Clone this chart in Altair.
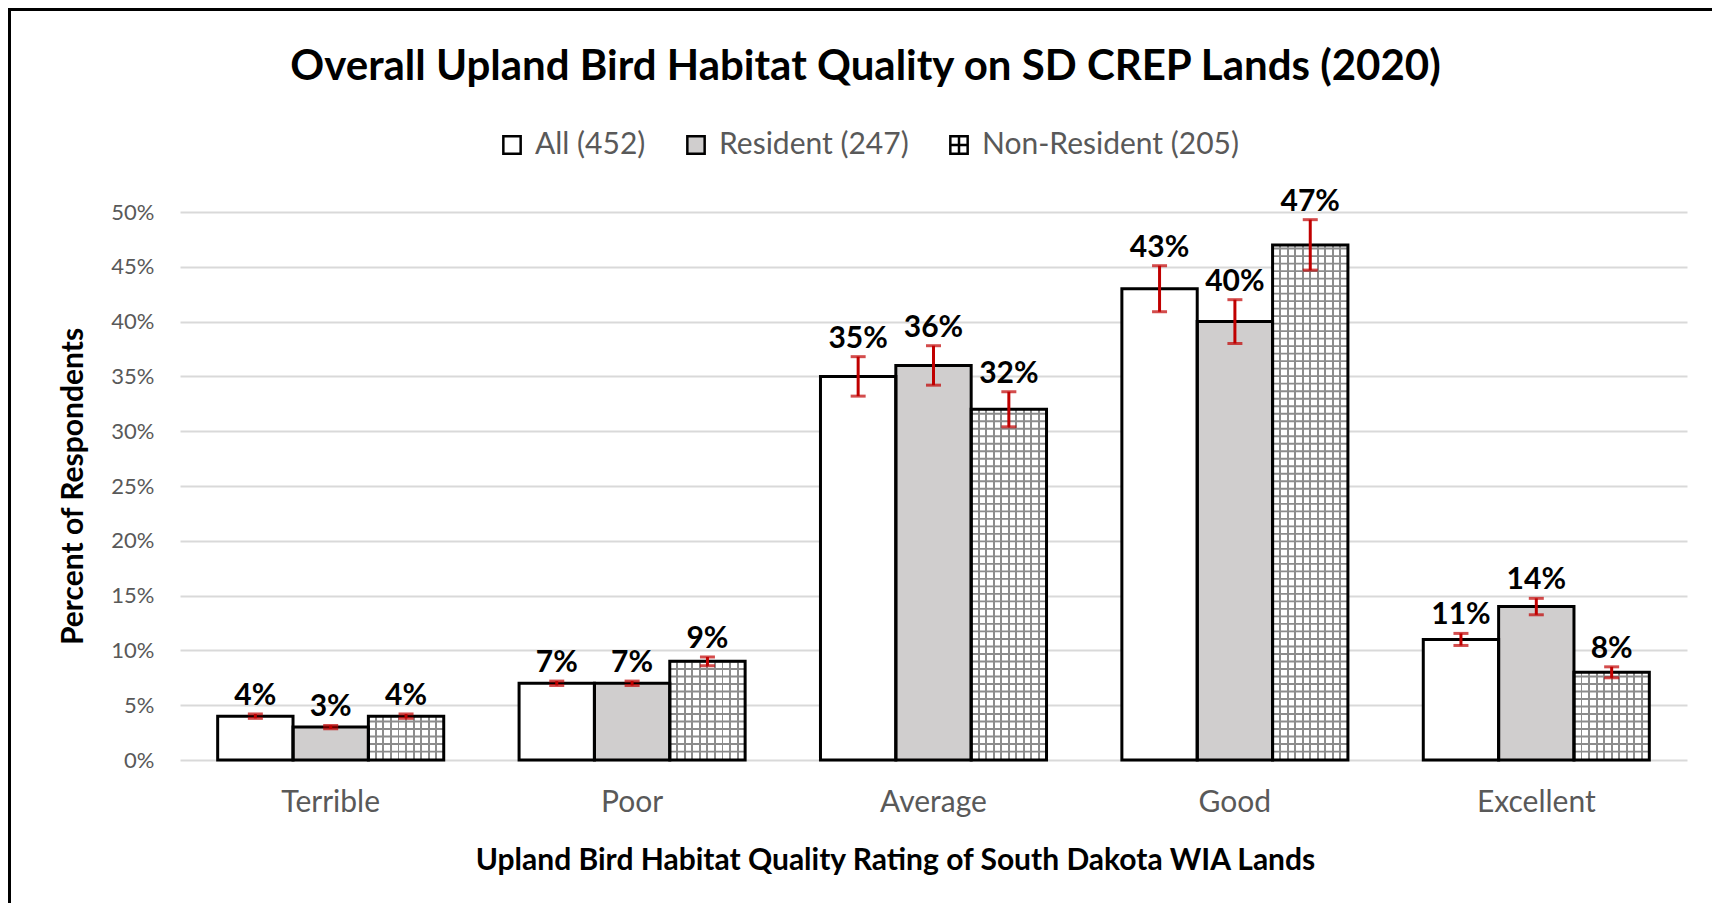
import altair as alt
import pandas as pd

categories = ["Terrible", "Poor", "Average", "Good", "Excellent"]
series = ["All (452)", "Resident (247)", "Non-Resident (205)"]
all_vals = [4, 7, 35, 43, 11]
res_vals = [3, 7, 36, 40, 14]
non_vals = [4, 9, 32, 47, 8]
all_err = [0.2, 0.2, 1.8, 2.1, 0.55]
res_err = [0.15, 0.2, 1.8, 2.0, 0.75]
non_err = [0.2, 0.4, 1.6, 2.3, 0.5]
series_colors = ["white", "#D0CECE", "white"]

rows = []
for s, col, vals, errs in zip(series, series_colors, [all_vals, res_vals, non_vals], [all_err, res_err, non_err]):
    for c, v, e in zip(categories, vals, errs):
        rows.append({"category": c, "series": s, "value": v, "err": e, "col": col})
df = pd.DataFrame(rows)

W, H = 1507, 548
FONT = "Lato"
GREY_TXT = "#595959"
RED = "#C00000"
HATCH = "#8c8c8c"

x_axis = alt.Axis(title="Upland Bird Habitat Quality Rating of South Dakota WIA Lands",
                  labelAngle=0, labelFontSize=30, labelColor=GREY_TXT, labelFont=FONT,
                  labelPadding=27, domain=False, ticks=False,
                  titleFontSize=30, titleFont=FONT, titleFontWeight="bold", titleColor="black",
                  titlePadding=28, titleX=715)
y_axis = alt.Axis(title="Percent of Respondents", values=list(range(0, 55, 5)),
                  labelExpr="datum.value + '%'", labelFontSize=22, labelColor=GREY_TXT,
                  labelFont=FONT, labelPadding=26, domain=False, ticks=False,
                  grid=True, gridColor="#D9D9D9", gridWidth=2,
                  titleFontSize=30, titleFont=FONT, titleFontWeight="bold", titleColor="black",
                  titlePadding=22)

X = alt.X("category:N", sort=categories,
          scale=alt.Scale(domain=categories, paddingInner=0.25, paddingOuter=0.125), axis=x_axis)
XO = alt.XOffset("series:N", scale=alt.Scale(domain=series, paddingInner=0, paddingOuter=0))
ysc = alt.Scale(domain=[0, 50])

def Y(field):
    return alt.Y(field, scale=ysc, axis=y_axis, title="Percent of Respondents")

legend = alt.Legend(orient="none", legendX=317, legendY=-82, direction="horizontal",
                    title=None, labelFontSize=30, labelColor=GREY_TXT, labelFont=FONT,
                    labelLimit=500, symbolSize=300, symbolStrokeColor="black",
                    symbolStrokeWidth=2.5, symbolOpacity=1, columnPadding=35, labelOffset=8)

fill_enc = alt.Fill("series:N", scale=alt.Scale(domain=series, range=series_colors),
                    legend=legend)
stroke_enc = alt.Stroke("series:N", scale=alt.Scale(domain=series, range=["black", "black", "black"]),
                        legend=legend)
shape_enc = alt.Shape("series:N", scale=alt.Scale(domain=series, range=[
    "M-1,-1H1V1H-1Z", "M-1,-1H1V1H-1Z", "M-1,-1H1V1H-1Z M0,-1V1 M-1,0H1"]), legend=legend)

base = alt.Chart(df)

leg_pts = base.transform_filter("false").mark_point(filled=True, strokeWidth=2.5,
                                                     opacity=1).encode(
    x=X, y=Y("value:Q"), fill=fill_enc, stroke=stroke_enc, shape=shape_enc)

bars = base.mark_bar().encode(x=X, xOffset=XO, y=Y("value:Q"), fill=alt.Fill("col:N", scale=None))

# vertical hatch lines via hard-stop gradient
stops = [alt.GradientStop(offset=0, color="white")]
n = 10
hw = 0.013
for k in range(1, n):
    c = k / n
    stops += [alt.GradientStop(offset=c - hw, color="white"),
              alt.GradientStop(offset=c - hw, color=HATCH),
              alt.GradientStop(offset=c + hw, color=HATCH),
              alt.GradientStop(offset=c + hw, color="white")]
stops.append(alt.GradientStop(offset=1, color="white"))
grad = alt.LinearGradient(gradient="linear", stops=stops, x1=0, x2=1, y1=0, y2=0)

non_name = series[2]
hatch_fill = base.transform_filter(alt.datum.series == non_name).mark_bar(fill=grad).encode(
    x=X, xOffset=XO, y=Y("value:Q"))

hatch_h = base.transform_filter(alt.datum.series == non_name).transform_calculate(
    h="sequence(0.685, datum.value, 0.685)").transform_flatten(["h"]).transform_calculate(
    h2="datum.h + 0.17").mark_bar(fill=HATCH).encode(
    x=X, xOffset=XO, y=Y("h:Q"), y2="h2:Q")

outline = base.mark_bar(fillOpacity=0, stroke="black", strokeWidth=3).encode(
    x=X, xOffset=XO, y=Y("value:Q"))

errbase = base.transform_calculate(lo="datum.value - datum.err", hi="datum.value + datum.err",
                                   label="datum.value + '%'")
err_rule = errbase.mark_rule(color=RED, strokeWidth=3).encode(
    x=X, xOffset=XO, y=Y("lo:Q"), y2="hi:Q")
cap_lo = errbase.mark_tick(color=RED, thickness=3, size=15).encode(x=X, xOffset=XO, y=Y("lo:Q"))
cap_hi = errbase.mark_tick(color=RED, thickness=3, size=15).encode(x=X, xOffset=XO, y=Y("hi:Q"))

labels = errbase.mark_text(font=FONT, fontSize=30, fontWeight="bold", color="black",
                           baseline="alphabetic", dy=-9).encode(
    x=X, xOffset=XO, y=Y("hi:Q"), text="label:N")

frame = alt.Chart(pd.DataFrame({"a": [0]})).mark_rect(fillOpacity=0, stroke="black", strokeWidth=4).encode(
    x=alt.value(-171), x2=alt.value(W + 300), y=alt.value(-203), y2=alt.value(H + 400))

chart = alt.layer(leg_pts, bars, hatch_fill, hatch_h, outline, err_rule, cap_lo, cap_hi, labels, frame).properties(
    width=W, height=H,
    title=alt.Title("Overall Upland Bird Habitat Quality on SD CREP Lands (2020)",
                    font=FONT, fontSize=42, fontWeight="bold", color="black",
                    anchor="middle", frame="group", dx=-68, offset=-82),
    autosize=alt.AutoSizeParams(type="none"),
    padding={"left": 172, "top": 204, "right": 25, "bottom": 143},
    background="white",
).configure_view(stroke=None)

chart.save("out.html", embed_options={"renderer": "svg", "actions": False})
